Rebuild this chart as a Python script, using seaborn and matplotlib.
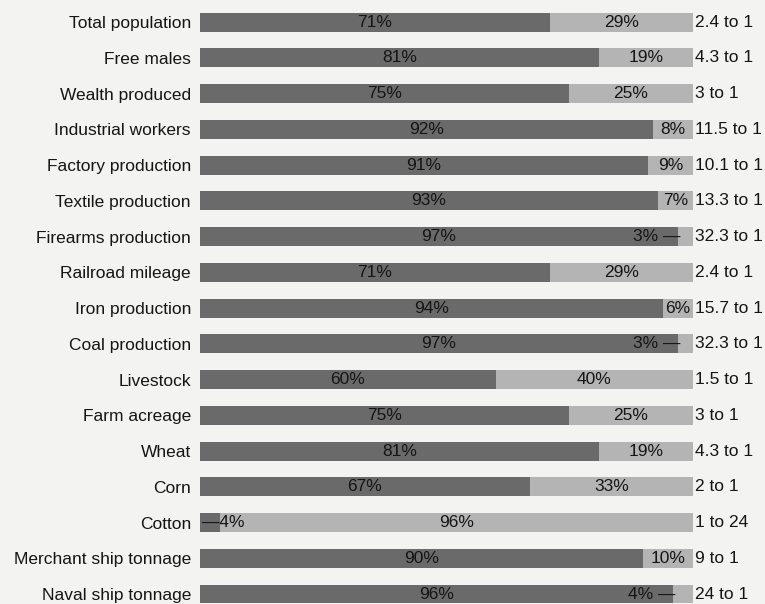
import numpy as np
import pandas as pd
import matplotlib
matplotlib.use("Agg")
import matplotlib.pyplot as plt
import seaborn as sns

# Data (North share, South share, ratio)
categories = ["Total population", "Free males", "Wealth produced", "Industrial workers",
              "Factory production", "Textile production", "Firearms production",
              "Railroad mileage", "Iron production", "Coal production", "Livestock",
              "Farm acreage", "Wheat", "Corn", "Cotton", "Merchant ship tonnage",
              "Naval ship tonnage"]
north = [71, 81, 75, 92, 91, 93, 97, 71, 94, 97, 60, 75, 81, 67, 4, 90, 96]
south = [29, 19, 25, 8, 9, 7, 3, 29, 6, 3, 40, 25, 19, 33, 96, 10, 4]
ratios = ["2.4 to 1", "4.3 to 1", "3 to 1", "11.5 to 1", "10.1 to 1", "13.3 to 1",
          "32.3 to 1", "2.4 to 1", "15.7 to 1", "32.3 to 1", "1.5 to 1", "3 to 1",
          "4.3 to 1", "2 to 1", "1 to 24", "9 to 1", "24 to 1"]

df = pd.DataFrame({"category": categories, "north": north, "south": south, "ratio": ratios})
df["total"] = df["north"] + df["south"]

dark = "#6a6a6a"
light = "#b4b4b4"
bg = "#f3f3f1"
txt = "#151515"

sns.set_style("white")
plt.rcParams["font.family"] = ["Liberation Sans", "DejaVu Sans"]

fig = plt.figure(figsize=(7.65, 6.04), dpi=100, facecolor=bg)
ax = fig.add_axes([200 / 765, 0, 492.5 / 765, 1])
ax.set_facecolor(bg)

# light (South) bar full width, then North on top
sns.barplot(data=df, x="total", y="category", color=light, width=0.53,
            linewidth=0, saturation=1, ax=ax, orient="h")
sns.barplot(data=df, x="north", y="category", color=dark, width=0.53,
            linewidth=0, saturation=1, ax=ax, orient="h")

fs = 12.5
for i, row in df.iterrows():
    n, s = row["north"], row["south"]
    if n >= 5:
        ax.text(n / 2, i, f"{n}%", ha="center", va="center", fontsize=fs, color=txt)
    else:
        ax.text(n - 3.5, i, f"\u2014{n}%", ha="left", va="center", fontsize=fs, color=txt)
    if s >= 5:
        ax.text(n + s / 2, i, f"{s}%", ha="center", va="center", fontsize=fs, color=txt)
    else:
        ax.text(n + 0.5, i, f"{s}% \u2014", ha="right", va="center", fontsize=fs, color=txt)
    ax.text(100.6, i, row["ratio"], ha="left", va="center", fontsize=fs, color=txt)

ax.set_xlim(0, 100)
ax.set_ylim(16.279, -0.621)
ax.set_xlabel("")
ax.set_ylabel("")
ax.set_xticks([])
ax.tick_params(axis="y", length=0, pad=6.5, labelsize=fs, labelcolor=txt)
sns.despine(ax=ax, left=True, bottom=True)

fig.savefig("out.png", dpi=100, facecolor=bg)
